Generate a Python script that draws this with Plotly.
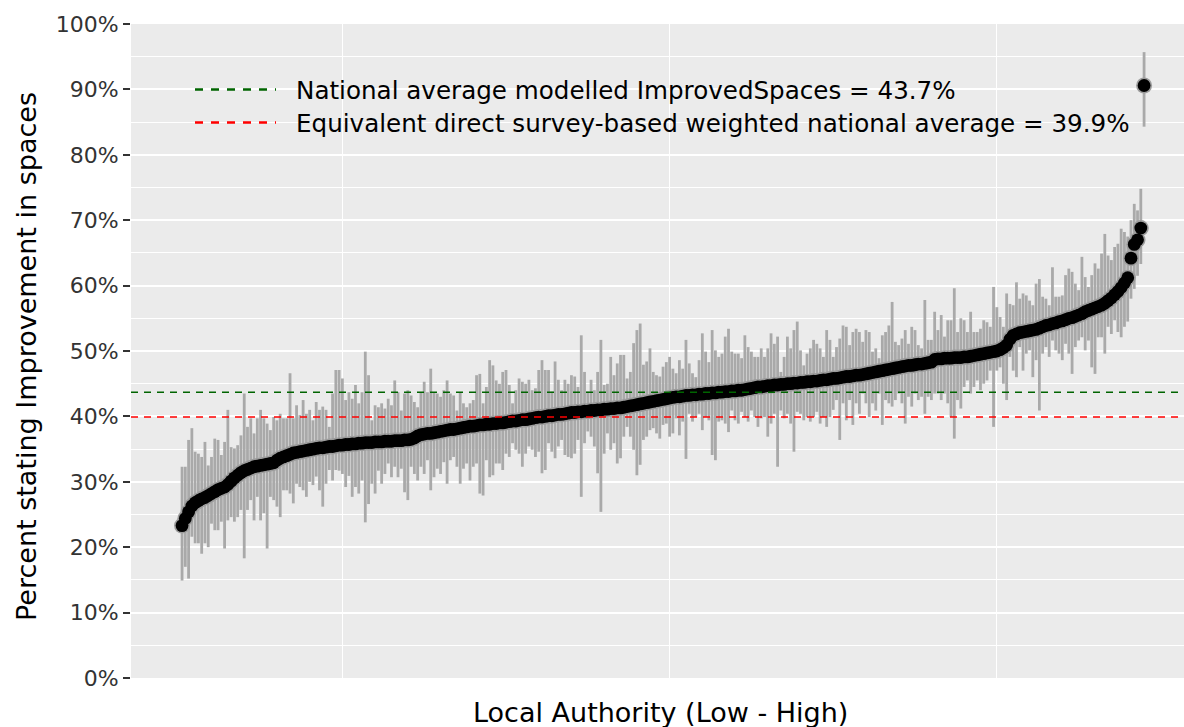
import plotly.graph_objects as go

# ---------------- data ----------------
estimate = [
    23.3, 24.4, 25.4, 26.3, 26.8, 27.1, 27.4, 27.6, 27.9, 28.2,
    28.5, 28.8, 29.0, 29.2, 29.6, 30.1, 30.6, 31.0, 31.4, 31.7,
    31.9, 32.1, 32.3, 32.4, 32.5, 32.6, 32.7, 32.8, 32.9, 33.3,
    33.6, 33.8, 34.0, 34.2, 34.4, 34.5, 34.6, 34.7, 34.8, 34.9,
    35.0, 35.1, 35.2, 35.2, 35.3, 35.4, 35.4, 35.5, 35.6, 35.6,
    35.7, 35.7, 35.8, 35.8, 35.9, 35.9, 36.0, 36.0, 36.0, 36.1,
    36.1, 36.1, 36.2, 36.2, 36.2, 36.3, 36.3, 36.3, 36.4, 36.4,
    36.5, 36.7, 37.0, 37.2, 37.3, 37.4, 37.4, 37.5, 37.6, 37.7,
    37.8, 37.9, 38.0, 38.0, 38.1, 38.2, 38.3, 38.4, 38.5, 38.5,
    38.6, 38.7, 38.7, 38.8, 38.8, 38.9, 38.9, 39.0, 39.0, 39.1,
    39.2, 39.3, 39.3, 39.4, 39.5, 39.5, 39.6, 39.7, 39.8, 39.9,
    39.9, 40.0, 40.1, 40.1, 40.2, 40.3, 40.3, 40.4, 40.5, 40.6,
    40.6, 40.7, 40.7, 40.8, 40.8, 40.9, 40.9, 41.0, 41.0, 41.1,
    41.1, 41.2, 41.2, 41.3, 41.3, 41.4, 41.5, 41.6, 41.7, 41.8,
    41.9, 42.0, 42.1, 42.2, 42.3, 42.4, 42.5, 42.6, 42.7, 42.8,
    42.9, 43.0, 43.0, 43.1, 43.2, 43.2, 43.3, 43.3, 43.4, 43.4,
    43.5, 43.5, 43.6, 43.6, 43.7, 43.7, 43.8, 43.8, 43.9, 43.9,
    44.0, 44.0, 44.1, 44.2, 44.3, 44.4, 44.5, 44.5, 44.6, 44.7,
    44.7, 44.8, 44.8, 44.9, 44.9, 45.0, 45.0, 45.1, 45.1, 45.2,
    45.2, 45.3, 45.3, 45.4, 45.4, 45.5, 45.6, 45.6, 45.7, 45.8,
    45.8, 45.9, 46.0, 46.1, 46.1, 46.2, 46.3, 46.3, 46.4, 46.5,
    46.6, 46.7, 46.8, 46.9, 47.0, 47.1, 47.2, 47.3, 47.4, 47.5,
    47.6, 47.7, 47.8, 47.8, 47.9, 48.0, 48.0, 48.1, 48.2, 48.3,
    48.7, 48.8, 48.8, 48.9, 48.9, 48.9, 49.0, 49.0, 49.0, 49.1,
    49.1, 49.2, 49.3, 49.4, 49.5, 49.6, 49.7, 49.8, 49.9, 50.0,
    50.2, 50.5, 50.9, 51.8, 52.4, 52.6, 52.8, 52.9, 53.0, 53.1,
    53.2, 53.3, 53.5, 53.7, 53.9, 54.0, 54.2, 54.3, 54.5, 54.6,
    54.8, 55.0, 55.1, 55.3, 55.5, 55.7, 56.0, 56.2, 56.4, 56.6,
    56.8, 57.0, 57.3, 57.7, 58.1, 58.6, 59.1, 59.7, 60.4, 61.2,
    64.2, 66.3, 67.0, 68.8, 90.6,
]

upper = [
    32.3, 32.3, 36.4, 38.2, 34.6, 34.3, 33.8, 36.1, 32.5, 33.8,
    36.6, 36.4, 34.1, 36.1, 41.0, 35.3, 35.1, 35.6, 37.1, 43.5,
    38.4, 39.7, 37.4, 39.7, 41.0, 39.7, 38.9, 37.9, 39.9, 39.4,
    40.4, 39.7, 39.7, 46.6, 39.7, 41.7, 40.2, 42.5, 40.4, 41.0,
    39.4, 42.2, 41.0, 41.5, 41.0, 38.4, 43.5, 47.1, 47.1, 45.8,
    42.5, 43.7, 42.7, 44.8, 42.0, 43.7, 49.9, 46.3, 39.4, 41.7,
    41.4, 42.0, 41.2, 42.7, 41.7, 45.5, 43.7, 40.9, 43.5, 44.0,
    43.2, 42.2, 41.4, 43.7, 45.3, 43.7, 47.3, 43.7, 43.5, 43.0,
    44.0, 45.5, 43.5, 43.2, 40.9, 43.7, 42.0, 41.4, 42.0, 42.5,
    46.3, 46.5, 42.0, 44.5, 48.6, 47.8, 45.5, 45.0, 46.8, 47.1,
    44.8, 42.0, 44.0, 45.8, 45.3, 45.0, 45.6, 44.0, 44.3, 47.1,
    48.6, 47.1, 47.1, 43.8, 48.4, 45.6, 44.0, 45.6, 45.0, 46.3,
    46.1, 44.5, 52.4, 46.8, 43.8, 45.6, 44.0, 46.8, 51.7, 44.8,
    45.0, 49.1, 46.3, 48.1, 49.4, 49.4, 45.8, 46.8, 51.2, 53.2,
    54.2, 47.9, 48.4, 50.4, 46.8, 46.3, 46.1, 47.6, 48.3, 49.1,
    47.3, 46.6, 48.6, 47.3, 51.7, 48.1, 46.6, 46.0, 48.6, 52.7,
    49.9, 48.3, 53.2, 50.1, 49.1, 49.6, 52.2, 53.4, 49.9, 49.6,
    49.6, 48.9, 52.4, 50.6, 49.9, 49.1, 49.1, 50.4, 49.1, 50.4,
    52.7, 51.1, 52.2, 46.8, 49.1, 52.2, 50.4, 53.2, 54.5, 50.1,
    47.8, 49.6, 50.4, 51.7, 51.1, 50.4, 49.1, 53.2, 51.7, 49.1,
    50.6, 51.9, 53.9, 53.7, 50.9, 52.9, 53.4, 52.9, 51.4, 53.2,
    52.9, 49.9, 50.4, 48.9, 52.4, 52.9, 53.9, 57.5, 51.4, 50.9,
    51.9, 53.2, 51.1, 53.7, 53.2, 50.9, 50.4, 57.8, 51.7, 51.7,
    56.0, 53.2, 55.5, 52.2, 54.7, 54.7, 59.6, 52.9, 55.0, 54.7,
    52.9, 56.0, 52.9, 52.9, 53.4, 54.7, 54.4, 53.7, 59.8, 56.7,
    55.2, 53.7, 58.8, 57.2, 57.0, 60.5, 58.0, 58.8, 58.5, 57.7,
    57.0, 60.3, 61.0, 58.3, 58.0, 57.0, 62.8, 58.3, 58.3, 58.5,
    61.6, 62.6, 62.1, 60.3, 59.3, 64.4, 61.3, 59.8, 61.6, 63.4,
    62.6, 64.9, 67.9, 64.6, 63.9, 65.9, 66.4, 68.7, 68.2, 67.5,
    70.0, 72.5, 71.5, 74.8, 95.7,
]

lower = [
    14.9, 17.0, 15.2, 21.6, 20.6, 20.6, 19.0, 20.6, 20.0, 23.6,
    22.6, 22.6, 23.9, 19.8, 24.1, 24.6, 23.9, 24.6, 25.7, 18.3,
    25.7, 27.2, 24.1, 27.7, 24.1, 25.2, 19.8, 27.7, 27.2, 26.2,
    24.6, 28.7, 28.7, 28.2, 26.7, 29.7, 29.2, 28.7, 27.7, 30.0,
    29.5, 30.8, 28.7, 26.2, 29.7, 31.8, 30.2, 31.8, 31.7, 31.2,
    29.2, 30.9, 27.7, 29.2, 28.2, 30.2, 23.8, 26.6, 29.7, 28.2,
    31.7, 29.7, 31.2, 32.8, 30.7, 32.3, 30.7, 32.0, 28.4, 27.2,
    32.3, 31.2, 30.2, 32.3, 31.2, 33.3, 28.7, 30.7, 32.0, 31.2,
    33.0, 29.7, 33.3, 33.8, 32.3, 29.7, 32.0, 32.8, 30.2, 32.3,
    32.8, 28.2, 27.9, 33.3, 30.7, 31.0, 32.8, 32.8, 31.8, 34.3,
    33.8, 35.9, 34.9, 34.3, 32.3, 34.3, 35.4, 34.9, 33.8, 34.6,
    31.3, 31.8, 35.9, 34.6, 33.6, 35.4, 36.4, 34.1, 33.8, 33.6,
    34.3, 36.4, 27.7, 35.9, 37.7, 36.9, 35.4, 31.3, 25.4, 34.3,
    37.4, 34.9, 35.9, 32.8, 33.6, 36.9, 38.4, 36.9, 34.9, 31.0,
    32.6, 36.4, 36.9, 37.9, 38.2, 37.4, 36.6, 38.7, 38.9, 36.9,
    37.4, 39.7, 37.1, 39.2, 33.5, 40.4, 39.2, 39.9, 40.4, 37.9,
    39.9, 39.4, 34.1, 33.3, 39.2, 39.4, 38.9, 37.6, 40.9, 39.4,
    38.9, 40.7, 39.9, 39.2, 40.9, 39.9, 38.4, 39.7, 39.9, 36.9,
    38.9, 40.4, 32.3, 40.9, 39.7, 40.4, 38.9, 34.6, 40.7, 40.4,
    39.4, 39.9, 39.2, 39.9, 40.7, 38.9, 39.9, 38.4, 39.9, 41.0,
    42.5, 36.4, 42.0, 39.4, 42.5, 38.7, 42.0, 40.4, 43.5, 42.0,
    39.9, 42.0, 40.9, 43.5, 38.7, 42.5, 42.0, 41.5, 42.5, 43.5,
    42.0, 38.9, 43.0, 41.5, 43.5, 42.5, 43.0, 40.4, 43.0, 42.5,
    43.5, 43.5, 42.5, 43.5, 42.0, 39.9, 36.6, 42.5, 41.2, 44.5,
    45.5, 43.5, 44.5, 45.5, 44.0, 45.0, 45.5, 47.0, 38.4, 47.0,
    47.5, 45.0, 42.5, 49.1, 47.0, 46.0, 50.6, 47.0, 49.6, 50.1,
    46.0, 48.6, 40.9, 49.6, 50.6, 49.1, 51.6, 50.1, 49.6, 48.6,
    51.1, 49.6, 46.5, 50.6, 51.6, 52.1, 50.1, 51.6, 47.5, 46.5,
    52.1, 52.1, 49.6, 53.7, 52.6, 54.7, 52.9, 52.1, 53.7, 54.5,
    58.0, 59.5, 61.5, 63.3, 84.3,
]

rank = list(range(1, len(estimate) + 1))

national_modelled = 43.7
national_direct = 39.9
legend_labels = [
    "National average modelled ImprovedSpaces = 43.7%",
    "Equivalent direct survey-based weighted national average = 39.9%",
]
y_ticks = list(range(0, 101, 10))
y_minor = list(range(5, 100, 10))
x_grid = [50, 150, 250]

# ---------------- layout geometry (pixels) ----------------
W, H = 1184, 727
L, R, T, B = 131, 0, 24, 49
pw, ph = W - L - R, H - T - B


def px(x):
    return (x - L) / pw


def py(y):
    return (H - B - y) / ph


FONT = "DejaVu Sans"

fig = go.Figure()

# error bars (drawn first, under the points)
fig.add_trace(go.Scatter(
    x=rank, y=estimate, mode="markers",
    marker=dict(size=1, opacity=0),
    error_y=dict(
        type="data", symmetric=False,
        array=[u - e for u, e in zip(upper, estimate)],
        arrayminus=[e - l for e, l in zip(estimate, lower)],
        color="#a9a9a9", thickness=2.8, width=0,
    ),
    hoverinfo="skip", showlegend=False,
))

# points: grey halo layer, then black layer on top
fig.add_trace(go.Scatter(
    x=rank, y=estimate, mode="markers",
    marker=dict(size=16, color="#9c9c9c", line=dict(width=0)),
    hoverinfo="skip", showlegend=False,
))
fig.add_trace(go.Scatter(
    x=rank, y=estimate, mode="markers",
    marker=dict(size=12.8, color="black", line=dict(width=0)),
    showlegend=False,
))

# reference lines
fig.add_shape(type="line", xref="x domain", yref="y", x0=0, x1=1,
              y0=national_modelled, y1=national_modelled,
              line=dict(color="#006400", width=1.6, dash="7px,6px"), layer="above")
fig.add_shape(type="line", xref="x domain", yref="y", x0=0, x1=1,
              y0=national_direct, y1=national_direct,
              line=dict(color="#ff0000", width=1.6, dash="7px,6px"), layer="above")

# manual legend
for ky, col, lab in [(89.5, "#006400", legend_labels[0]), (122.5, "#ff0000", legend_labels[1])]:
    fig.add_shape(type="line", xref="paper", yref="paper",
                  x0=px(195), x1=px(276), y0=py(ky), y1=py(ky),
                  line=dict(color=col, width=2.6, dash="8px,8px"), layer="above")
    fig.add_annotation(xref="paper", yref="paper", x=px(294), y=py(ky + 1),
                       text=lab, showarrow=False, xanchor="left", yanchor="middle",
                       font=dict(family=FONT, size=24.6, color="black"))

# axis titles
fig.add_annotation(xref="paper", yref="paper", x=px(660), y=py(712),
                   text="Local Authority (Low - High)", showarrow=False,
                   xanchor="center", yanchor="middle",
                   font=dict(family=FONT, size=27, color="black"))
fig.add_annotation(xref="paper", yref="paper", x=px(27), y=py(357),
                   text="Percent stating Improvement in spaces", showarrow=False,
                   textangle=-90, xanchor="center", yanchor="middle",
                   font=dict(family=FONT, size=27, color="black"))

fig.update_layout(
    width=W, height=H,
    margin=dict(l=L, r=R, t=T, b=B, pad=0),
    paper_bgcolor="white", plot_bgcolor="#ebebeb",
    font=dict(family=FONT),
    showlegend=False,
    xaxis=dict(range=[-14.6, 307.2], tickvals=x_grid, showticklabels=False,
               ticks="", showgrid=True, gridcolor="white", gridwidth=1.2,
               zeroline=False, showline=False),
    yaxis=dict(range=[0, 100], tickvals=y_ticks,
               ticktext=[f"{v}%" for v in y_ticks],
               ticks="outside", ticklen=7, tickwidth=2, tickcolor="#333333",
               tickfont=dict(family=FONT, size=22, color="#333333"),
               showgrid=True, gridcolor="white", gridwidth=2.2,
               minor=dict(tickvals=y_minor, showgrid=True, gridcolor="white",
                          gridwidth=1.1),
               zeroline=False, showline=False),
)

fig.write_html("out.html")
